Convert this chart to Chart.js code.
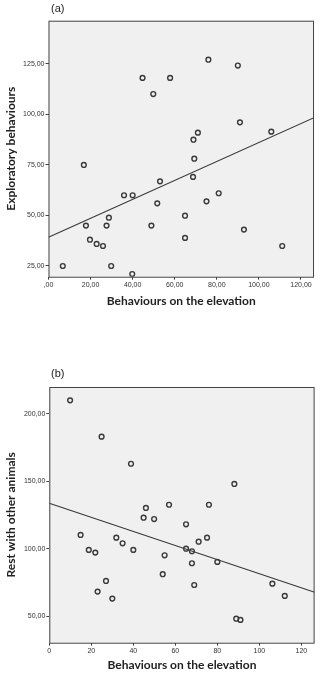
<!DOCTYPE html>
<html>
<head>
<meta charset="utf-8">
<script src="https://cdn.jsdelivr.net/npm/chart.js@4"></script>
<style>
  html, body { margin: 0; padding: 0; background: #fff; }
  .box { position: absolute; left: 0; width: 320px; height: 335px; }
</style>
</head>
<body>
<div class="box" style="top:0"><canvas id="chartA" width="320" height="335"></canvas></div>
<div class="box" style="top:340px"><canvas id="chartB" width="320" height="335"></canvas></div>
<script>
// (a) Exploratory behaviours vs behaviours on the elevation
const xA = [44.7, 57.8, 49.8, 76.0, 90.0, 91.0, 105.9, 71.0, 68.9, 69.3, 16.8, 53.0, 68.7, 35.9, 40.0, 80.9,
            75.1, 51.7, 64.9, 28.7, 17.8, 27.6, 48.9, 92.9, 64.9, 19.7, 22.9, 25.9, 111.1, 6.8, 29.8, 39.8];
const yA = [118.1, 118.1, 110.1, 127.1, 124.2, 96.1, 91.5, 91.0, 87.5, 78.1, 75.0, 66.9, 69.1, 60.0, 60.0, 61.0,
            57.0, 56.0, 49.9, 48.9, 45.0, 45.0, 45.0, 43.0, 38.9, 38.0, 35.9, 34.9, 34.9, 25.0, 25.0, 21.0];
const fitXA = [0, 126.2];
const fitYA = [39.2, 98.4];
const xTicksA = [0, 20, 40, 60, 80, 100, 120];
const xTickLabelsA = [',00', '20,00', '40,00', '60,00', '80,00', '100,00', '120,00'];
const yTicksA = [25, 50, 75, 100, 125];
const yTickLabelsA = ['25,00', '50,00', '75,00', '100,00', '125,00'];

// (b) Rest with other animals vs behaviours on the elevation
const xB = [9.9, 24.9, 38.9, 88.1, 46.0, 57.0, 76.0, 44.9, 49.9, 65.1, 14.9, 31.9, 75.1, 34.9, 71.1, 18.8,
            40.0, 65.1, 21.9, 67.9, 54.9, 67.9, 80.0, 54.0, 27.0, 23.0, 69.0, 106.2, 112.1, 30.0, 89.0, 91.0];
const yB = [210.1, 183.2, 163.1, 148.1, 130.3, 132.7, 132.7, 123.1, 122.1, 118.2, 110.3, 108.3, 108.3, 104.1, 105.3, 99.2,
            99.2, 100.1, 97.2, 98.2, 95.2, 89.3, 90.3, 81.2, 76.2, 68.3, 73.2, 74.2, 65.1, 63.1, 48.2, 47.3];
const fitXB = [0, 126.3];
const fitYB = [133.8, 67.8];
const xTicksB = [0, 20, 40, 60, 80, 100, 120];
const xTickLabelsB = ['0', '20', '40', '60', '80', '100', '120'];
const yTicksB = [50, 100, 150, 200];
const yTickLabelsB = ['50,00', '100,00', '150,00', '200,00'];

const ink = '#3a3a3a';
const titleFont = { family: 'Lato, "Liberation Sans", sans-serif', size: 12, weight: 'bold' };
const tickFont = { family: '"Liberation Sans Narrow", "Liberation Sans", sans-serif', size: 7 };

// Rahmen + grauer Hintergrund wie SPSS
const framePlugin = {
    id: 'frame',
    beforeDraw(chart) {
        const a = chart.chartArea, ctx = chart.ctx;
        ctx.save();
        ctx.fillStyle = '#f0f0f0';
        ctx.fillRect(a.left, a.top, a.right - a.left, a.bottom - a.top);
        ctx.restore();
    },
    afterDraw(chart, args, opts) {
        const a = chart.chartArea, ctx = chart.ctx;
        ctx.save();
        ctx.strokeStyle = '#444';
        ctx.lineWidth = 1;
        ctx.strokeRect(a.left + 0.5, a.top + 0.5, a.right - a.left - 1, a.bottom - a.top);
        ctx.fillStyle = '#222';
        ctx.font = '11px "Liberation Sans", Arial, sans-serif';
        ctx.textBaseline = 'middle';
        ctx.fillText(opts.label, opts.lx, opts.ly);
        ctx.restore();
    }
};

function makeChart(id, cfg) {
    const pts = cfg.x.map((v, i) => ({ x: v, y: cfg.y[i] }));
    const fit = cfg.fitX.map((v, i) => ({ x: v, y: cfg.fitY[i] }));
    return new Chart(document.getElementById(id), {
        type: 'scatter',
        data: {
            datasets: [
                { data: pts, pointRadius: 2.4, pointBorderWidth: 1.4, borderColor: ink, backgroundColor: 'rgba(0,0,0,0)' },
                { data: fit, showLine: true, pointRadius: 0, borderColor: ink, borderWidth: 1.2 }
            ]
        },
        options: {
            responsive: false,
            animation: false,
            devicePixelRatio: 1,
            layout: { padding: { top: cfg.top, right: cfg.right, left: 0, bottom: 0 } },
            plugins: {
                legend: { display: false },
                tooltip: { enabled: false },
                frame: { label: cfg.label, lx: 51, ly: cfg.labelY }
            },
            scales: {
                x: {
                    type: 'linear', min: cfg.xMin, max: cfg.xMax,
                    afterBuildTicks: s => { s.ticks = cfg.xTicks.map(v => ({ value: v })); },
                    afterFit: s => { s.height = cfg.xAxisH; },
                    ticks: { font: tickFont, color: '#333', padding: 1, maxRotation: 0,
                             callback: (v) => cfg.xLabels[cfg.xTicks.indexOf(v)] },
                    grid: { drawOnChartArea: false, tickLength: 3, color: '#444' },
                    border: { display: false },
                    title: { display: true, text: 'Behaviours on the elevation', color: '#222', font: titleFont,
                             padding: { top: 0, bottom: cfg.xTitlePad } }
                },
                y: {
                    type: 'linear', min: cfg.yMin, max: cfg.yMax,
                    afterBuildTicks: s => { s.ticks = cfg.yTicks.map(v => ({ value: v })); },
                    afterFit: s => { s.width = cfg.yAxisW; },
                    ticks: { font: tickFont, color: '#333', padding: 1,
                             callback: (v) => cfg.yLabels[cfg.yTicks.indexOf(v)] },
                    grid: { drawOnChartArea: false, tickLength: 3, color: '#444' },
                    border: { display: false },
                    title: { display: true, text: cfg.yTitle, color: '#222', font: titleFont,
                             padding: { top: 3.5, bottom: 0 } }
                }
            }
        },
        plugins: [framePlugin]
    });
}

makeChart('chartA', {
    x: xA, y: yA, fitX: fitXA, fitY: fitYA,
    xMin: 0, xMax: 126.2, yMin: 19.7, yMax: 146.4,
    xTicks: xTicksA, xLabels: xTickLabelsA, yTicks: yTicksA, yLabels: yTickLabelsA,
    yTitle: 'Exploratory behaviours', label: '(a)', labelY: 9,
    top: 20.7, right: 6, yAxisW: 48.5, xAxisH: 58.3, xTitlePad: 26.8
});

makeChart('chartB', {
    x: xB, y: yB, fitX: fitXB, fitY: fitYB,
    xMin: 0, xMax: 126.3, yMin: 30.4, yMax: 220.0,
    xTicks: xTicksB, xLabels: xTickLabelsB, yTicks: yTicksB, yLabels: yTickLabelsB,
    yTitle: 'Rest with other animals', label: '(b)', labelY: 34,
    top: 47, right: 5, yAxisW: 49.3, xAxisH: 32.3, xTitlePad: 2.8
});
</script>
</body>
</html>
